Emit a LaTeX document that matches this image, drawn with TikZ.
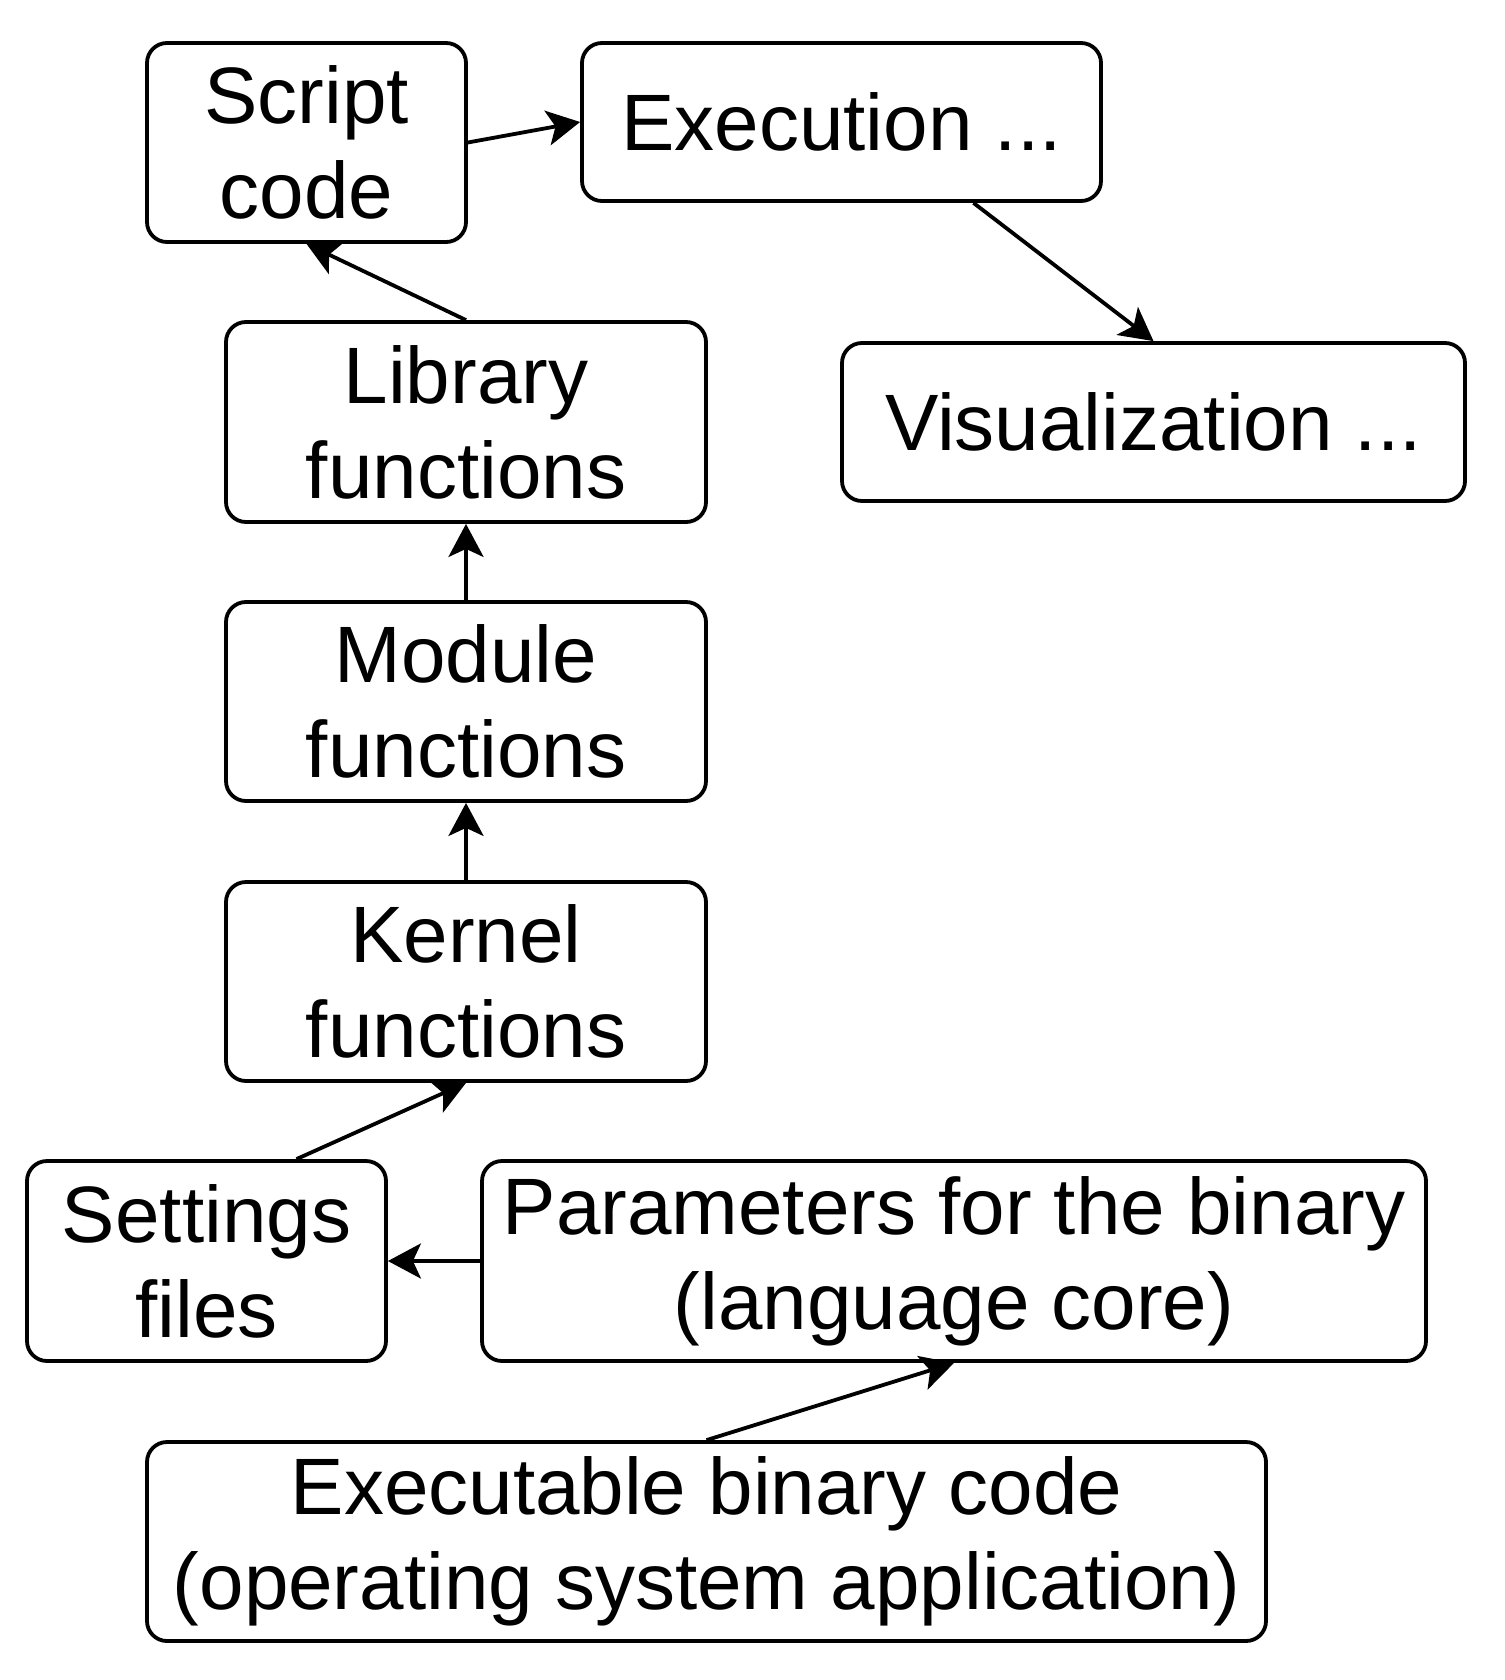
\documentclass[tikz,border=0pt]{standalone}
\usepackage{fontspec}
\setmainfont{Liberation Sans}
\usetikzlibrary{arrows.meta}
\begin{document}
\begin{tikzpicture}[x=1pt,y=-1pt,
  box/.style={draw=black,line width=3.8pt,rounded corners=20pt,align=center,inner sep=0pt,
    font=\fontsize{80}{95}\selectfont},
  conn/.style={line width=3.8pt,-{Stealth[length=33pt,width=35pt,inset=8pt]}}]
\path[use as bounding box,fill=white] (0,0) rectangle (1504,1680);
\node[box,minimum width=319pt,minimum height=199pt] (script) at (306.5,142.5) {Script\\code};
\node[box,minimum width=519pt,minimum height=158pt] (exec) at (841.5,122) {Execution ...};
\node[box,minimum width=480pt,minimum height=200pt] (lib) at (466,422) {Library\\functions};
\node[box,minimum width=623pt,minimum height=158pt] (vis) at (1153.5,422) {Visualization ...};
\node[box,minimum width=480pt,minimum height=199pt] (mod) at (466,701.5) {Module\\functions};
\node[box,minimum width=480pt,minimum height=199pt] (ker) at (466,981.5) {Kernel\\functions};
\node[box,minimum width=359pt,minimum height=200pt] (set) at (206.5,1261) {Settings\\files};
\node[box,minimum width=944pt,minimum height=200pt] (par) at (954,1261) {Parameters for the binary\\(language core)};
\node[box,minimum width=1119pt,minimum height=199pt] (bin) at (706.5,1541.5) {Executable binary code\\(operating system application)};
\draw[conn] (script.east) -- (exec.west);
\draw[conn] ([xshift=132pt]exec.south) -- (vis.north);
\draw[conn] (lib.north) -- (script.south);
\draw[conn] (mod.north) -- (lib.south);
\draw[conn] (ker.north) -- (mod.south);
\draw[conn] ([xshift=90pt]set.north) -- (ker.south);
\draw[conn] (par.west) -- (set.east);
\draw[conn] (bin.north) -- (par.south);
\end{tikzpicture}
\end{document}
